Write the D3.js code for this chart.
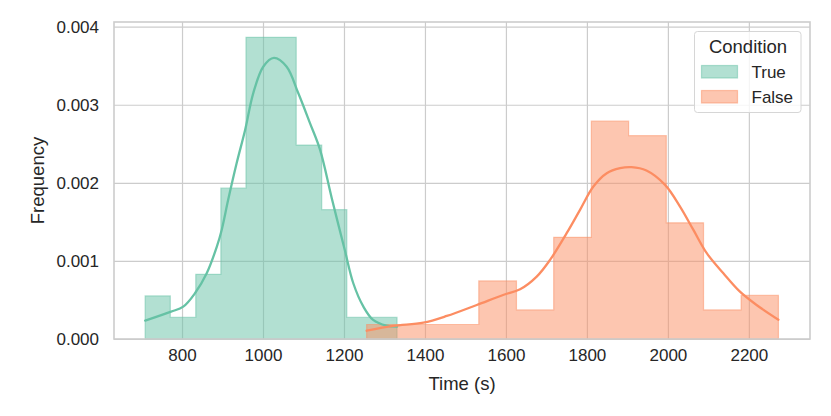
<!DOCTYPE html>
<html>
<head>
<meta charset="utf-8">
<script src="https://cdn.jsdelivr.net/npm/d3@7"></script>
<style>
  body { margin: 0; background: #fff; }
  svg text { font-family: "Liberation Sans", Arial, sans-serif; fill: #262626; }
</style>
</head>
<body>
<script>
// histogram bins
const trueEdges = [709, 771, 834, 896, 958, 1020, 1082, 1145, 1207, 1269, 1331]
const trueDensity = [0.000552, 0.000276, 0.000828, 0.001932, 0.003864, 0.003864, 0.002484, 0.001656, 0.000276, 0.000276]

const falseEdges = [1256, 1348, 1441, 1533, 1626, 1718, 1811, 1903, 1996, 2088, 2181, 2273]
const falseDensity = [0.000186, 0.000186, 0.000186, 0.000744, 0.000372, 0.001302, 0.00279, 0.002604, 0.001488, 0.000372, 0.000558]

// kde curves, points
const trueKdeX = [709, 773, 803, 832, 861, 886, 898, 914, 935, 956, 976, 1001, 1027, 1058, 1087, 1116, 1141, 1170, 1202, 1223, 1248, 1272, 1305, 1331]
const trueKdeY = [0.000235, 0.00035, 0.000414, 0.000586, 0.000842, 0.001183, 0.001397, 0.001782, 0.002253, 0.00268, 0.00315, 0.00349, 0.0036, 0.00349, 0.00315, 0.002765, 0.002423, 0.0018, 0.00114, 0.000714, 0.000414, 0.000244, 0.00017, 0.000158]

const falseKdeX = [1256, 1322, 1396, 1454, 1528, 1593, 1635, 1676, 1709, 1750, 1783, 1816, 1849, 1882, 1910, 1947, 1993, 2030, 2063, 2096, 2137, 2178, 2219, 2273]
const falseKdeY = [0.000106, 0.000167, 0.000209, 0.000295, 0.000436, 0.000564, 0.000637, 0.000799, 0.001013, 0.001355, 0.001654, 0.001953, 0.002124, 0.002188, 0.002201, 0.002158, 0.001974, 0.001696, 0.001397, 0.001099, 0.000842, 0.000606, 0.000436, 0.000247]

const xTicks = [800, 1000, 1200, 1400, 1600, 1800, 2000, 2200]
const yTicks = [0, 0.001, 0.002, 0.003, 0.004]
const categories = ["True", "False"]
const colors = ["#66c2a5", "#fc8d62"]

const width = 831
const height = 416
const margin = {top: 22, right: 21, bottom: 77, left: 114}

const svg = d3.select("body").append("svg")
    .attr("width", width)
    .attr("height", height)

const x = d3.scaleLinear()
    .domain([632, 2351])
    .range([margin.left, width - margin.right])

const y = d3.scaleLinear()
    .domain([0, 0.00406])
    .range([height - margin.bottom, margin.top])

const gridColor = "#cccccc"

// grid
svg.append("g")
    .attr("transform", `translate(0,${height - margin.bottom})`)
    .call(d3.axisBottom(x).tickValues(xTicks).tickSize(-(height - margin.top - margin.bottom)).tickFormat(d3.format("d")).tickPadding(10))
    .call(g => g.select(".domain").remove())
    .call(g => g.selectAll("line").attr("stroke", gridColor).attr("stroke-width", 1.2))
    .call(g => g.selectAll("text").attr("font-size", 17).attr("fill", "#262626"))

svg.append("g")
    .attr("transform", `translate(${margin.left},0)`)
    .call(d3.axisLeft(y).tickValues(yTicks).tickSize(-(width - margin.left - margin.right)).tickFormat(d3.format(".3f")).tickPadding(15))
    .call(g => g.select(".domain").remove())
    .call(g => g.selectAll("line").attr("stroke", gridColor).attr("stroke-width", 1.2))
    .call(g => g.selectAll("text").attr("font-size", 17).attr("fill", "#262626"))

function stepPoints(edges, dens) {
    let pts = [[edges[0], 0]]
    dens.forEach((d, i) => {
        pts.push([edges[i], d])
        pts.push([edges[i + 1], d])
    })
    pts.push([edges[edges.length - 1], 0])
    return pts
}

const stepLine = d3.line()
    .x(d => x(d[0]))
    .y(d => y(d[1]))

const kdeLine = d3.line()
    .x(d => x(d[0]))
    .y(d => y(d[1]))
    .curve(d3.curveCatmullRom.alpha(0.5))

const hists = [stepPoints(trueEdges, trueDensity), stepPoints(falseEdges, falseDensity)]
const kdes = [
    trueKdeX.map((v, i) => [v, trueKdeY[i]]),
    falseKdeX.map((v, i) => [v, falseKdeY[i]])
]

hists.forEach((pts, i) => {
    svg.append("path")
        .attr("d", stepLine(pts) + "Z")
        .attr("fill", colors[i])
        .attr("fill-opacity", 0.5)
        .attr("stroke", colors[i])
        .attr("stroke-opacity", 0.5)
        .attr("stroke-width", 1.2)
})

kdes.forEach((pts, i) => {
    svg.append("path")
        .attr("d", kdeLine(pts))
        .attr("fill", "none")
        .attr("stroke", colors[i])
        .attr("stroke-width", 2.3)
        .attr("stroke-linecap", "round")
})

// frame
svg.append("rect")
    .attr("x", margin.left)
    .attr("y", margin.top)
    .attr("width", width - margin.left - margin.right)
    .attr("height", height - margin.top - margin.bottom)
    .attr("fill", "none")
    .attr("stroke", gridColor)
    .attr("stroke-width", 1.6)

// axis labels
svg.append("text")
    .attr("x", (margin.left + width - margin.right) / 2)
    .attr("y", 390)
    .attr("text-anchor", "middle")
    .attr("font-size", 18.5)
    .text("Time (s)")

svg.append("text")
    .attr("transform", `translate(44,${(margin.top + height - margin.bottom) / 2}) rotate(-90)`)
    .attr("text-anchor", "middle")
    .attr("font-size", 18.5)
    .text("Frequency")

// legend
const legend = svg.append("g")

legend.append("rect")
    .attr("x", 694.5)
    .attr("y", 31.5)
    .attr("width", 106.5)
    .attr("height", 81)
    .attr("rx", 3)
    .attr("fill", "#fff")
    .attr("fill-opacity", 0.8)
    .attr("stroke", "#d6d6d6")
    .attr("stroke-width", 1)

legend.append("text")
    .attr("x", 748)
    .attr("y", 52.5)
    .attr("text-anchor", "middle")
    .attr("font-size", 18.5)
    .text("Condition")

categories.forEach((c, i) => {
    legend.append("rect")
        .attr("x", 701.5)
        .attr("y", 65.5 + i * 25)
        .attr("width", 36)
        .attr("height", 12.5)
        .attr("fill", colors[i])
        .attr("fill-opacity", 0.5)
        .attr("stroke", colors[i])
        .attr("stroke-opacity", 0.5)
        .attr("stroke-width", 1.2)
    legend.append("text")
        .attr("x", 751.5)
        .attr("y", 78 + i * 25)
        .attr("font-size", 17)
        .text(c)
})
</script>
</body>
</html>
